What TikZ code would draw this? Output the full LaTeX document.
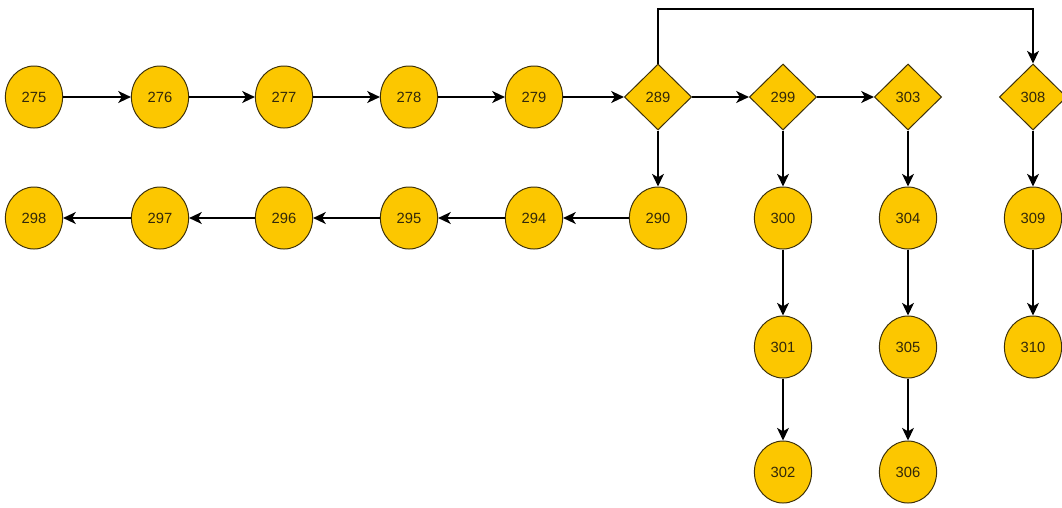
\documentclass[tikz,border=0pt]{standalone}
\usepackage{fontspec}
\setmainfont{Liberation Sans}
\usepackage{tikz}
\usetikzlibrary{shapes.geometric, arrows.meta, positioning}
\definecolor{stmtyellow}{RGB}{252, 199, 0}
\definecolor{stmtedge}{RGB}{60, 48, 10}
\definecolor{stmttext}{RGB}{50, 40, 10}

\begin{document}
\begin{tikzpicture}[
    x=0.025cm, y=-0.025cm,
    stmt/.style={ellipse, draw=stmtedge, fill=stmtyellow, line width=0.7pt,
                 minimum width=1.43cm, minimum height=1.55cm, inner sep=0pt,
                 text=stmttext, font=\fontsize{10.5}{12}\selectfont},
    cond/.style={diamond, draw=stmtedge, fill=stmtyellow, line width=0.7pt,
                 minimum width=1.68cm, minimum height=1.65cm, inner sep=0pt,
                 text=stmttext, font=\fontsize{10.5}{12}\selectfont},
    flow/.style={-{Stealth[length=9pt, width=8.5pt, inset=2.5pt]}, line width=0.9pt, black},
]
\useasboundingbox (0,0) rectangle (1062,507);

% main path
\node[stmt] (n275) at (34,97) {275};
\node[stmt] (n276) at (160,97) {276};
\node[stmt] (n277) at (284,97) {277};
\node[stmt] (n278) at (409,97) {278};
\node[stmt] (n279) at (534,97) {279};
\node[cond] (n289) at (658,97) {289};
\node[cond] (n299) at (783,97) {299};
\node[cond] (n303) at (908,97) {303};
\node[cond] (n308) at (1033,97) {308};

% second row
\node[stmt] (n290) at (658,218) {290};
\node[stmt] (n294) at (534,218) {294};
\node[stmt] (n295) at (409,218) {295};
\node[stmt] (n296) at (284,218) {296};
\node[stmt] (n297) at (160,218) {297};
\node[stmt] (n298) at (34,218) {298};
\node[stmt] (n300) at (783,218) {300};
\node[stmt] (n304) at (908,218) {304};
\node[stmt] (n309) at (1033,218) {309};

% lower branches
\node[stmt] (n301) at (783,347) {301};
\node[stmt] (n305) at (908,347) {305};
\node[stmt] (n310) at (1033,347) {310};
\node[stmt] (n302) at (783,472) {302};
\node[stmt] (n306) at (908,472) {306};

\coordinate (jumpA) at (658,9);
\coordinate (jumpB) at (1033,9);

\foreach \a/\b in {275/276, 276/277, 277/278, 278/279, 279/289, 289/299, 299/303,
                   289/290, 290/294, 294/295, 295/296, 296/297, 297/298,
                   299/300, 300/301, 301/302, 303/304, 304/305, 305/306,
                   308/309, 309/310}
    \draw[flow] (n\a) -- (n\b);

\draw[flow] (n289.north) -- (jumpA) -- (jumpB) -- (n308.north);

\end{tikzpicture}
\end{document}
